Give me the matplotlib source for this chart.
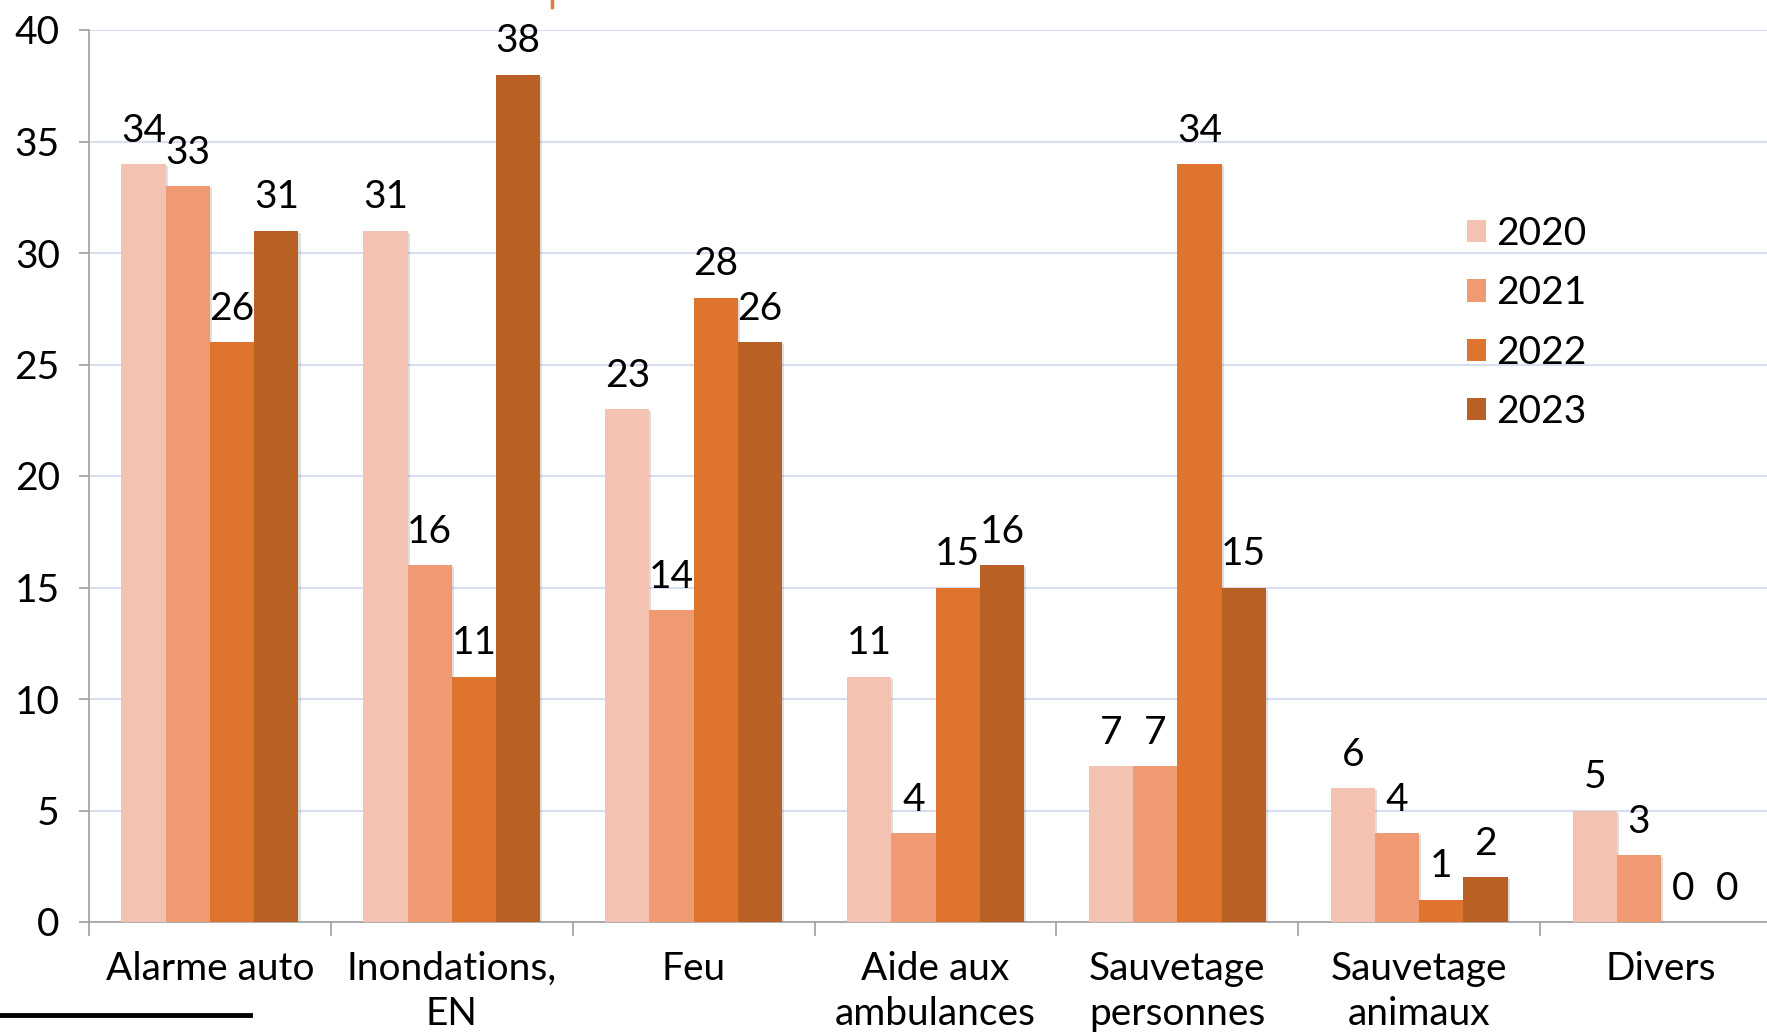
import matplotlib
matplotlib.use("Agg")
import matplotlib.pyplot as plt
import matplotlib.patheffects as pe
from matplotlib.lines import Line2D
import numpy as np

plt.rcParams['font.family'] = ['Lato', 'DejaVu Sans']

categories = ["Alarme auto", "Inondations,\nEN", "Feu", "Aide aux\nambulances",
              "Sauvetage\npersonnes", "Sauvetage\nanimaux", "Divers"]
years = ["2020", "2021", "2022", "2023"]
v2020 = [34, 31, 23, 11, 7, 6, 5]
v2021 = [33, 16, 14, 4, 7, 4, 3]
v2022 = [26, 11, 28, 15, 34, 1, 0]
v2023 = [31, 38, 26, 16, 15, 2, 0]
series = [v2020, v2021, v2022, v2023]
colors = ["#F4C2B0", "#EF9A72", "#DF742E", "#B96024"]

W, H = 1767, 1032
fig = plt.figure(figsize=(W / 100, H / 100), dpi=100)
# axes reaches past the right edge, as in the cropped original
left, right = 89 / W, 1782 / W
bottom, top = 1 - 922 / H, 1 - 30 / H
ax = fig.add_axes([left, bottom, right - left, top - bottom])

x = np.arange(len(categories))
bw = 0.183
fs = 28
shadow = [pe.SimplePatchShadow(offset=(1.5, -1.5), shadow_rgbFace='0.5', alpha=0.25), pe.Normal()]
for i, (vals, c, yr) in enumerate(zip(series, colors, years)):
    pos = x + (i - 1.5) * bw
    bars = ax.bar(pos, vals, width=bw, color=c, label=yr, zorder=3)
    for b in bars:
        b.set_path_effects(shadow)
    for p, v in zip(pos, vals):
        ax.annotate(str(v), (p, v), xytext=(0, 11), textcoords="offset points",
                    ha="center", va="bottom", fontsize=fs, zorder=4)

ax.set_xlim(-0.5, len(categories) - 0.5)
ax.set_ylim(0, 40)
ax.set_yticks(range(0, 41, 5))
ax.yaxis.grid(True, color="#D6DDF0", linewidth=1.5, zorder=0)
ax.set_axisbelow(True)

ax.set_xticks(x)
ax.set_xticklabels(categories, fontsize=fs, linespacing=1.3)
ax.set_xticks(np.arange(-0.5, len(categories), 1), minor=True)
ax.tick_params(axis="x", which="major", length=0, pad=21)
ax.tick_params(axis="x", which="minor", length=10, width=1.2, color="#A0A0A0")
ax.tick_params(axis="y", length=7, width=1.2, color="#A0A0A0", labelsize=fs, pad=14)

for s in ["top", "right"]:
    ax.spines[s].set_visible(False)
ax.spines["left"].set_color("#A0A0A0")
ax.spines["bottom"].set_color("#A0A0A0")
ax.spines["left"].set_linewidth(1.2)
ax.spines["bottom"].set_linewidth(1.2)

leg = ax.legend(loc="upper left", bbox_to_anchor=(1432 / W, 1 - 181 / H),
                bbox_transform=fig.transFigure, frameon=False, fontsize=fs,
                handlelength=0.5, handleheight=0.5, handletextpad=0.25,
                labelspacing=0.6)
for h in leg.legend_handles:
    h.set_path_effects([])

# fragments of the cropped title and the rule at the bottom
fig.add_artist(Line2D([552 / W, 552 / W], [1 - 0 / H, 1 - 7 / H], color="#E07B39",
                      linewidth=2.5, transform=fig.transFigure))
fig.add_artist(Line2D([0, 250 / W], [1 - 1015 / H, 1 - 1015 / H], color="black",
                      linewidth=3.5, transform=fig.transFigure))

fig.savefig("out.png", dpi=100)
